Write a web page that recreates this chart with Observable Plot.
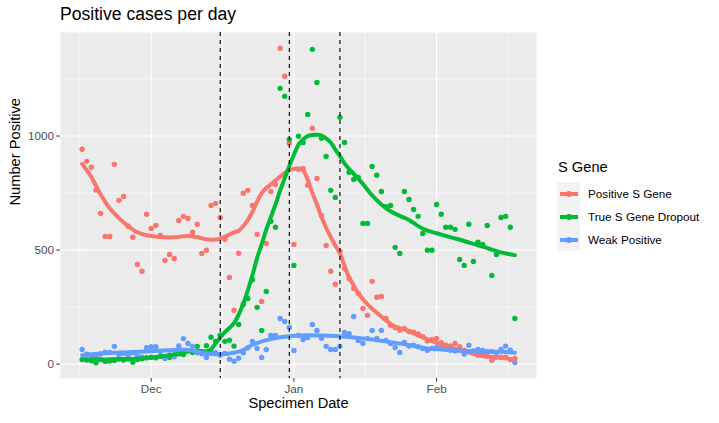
<!DOCTYPE html>
<html>
<head>
<meta charset="utf-8">
<script src="https://cdn.jsdelivr.net/npm/d3@7"></script>
<script src="https://cdn.jsdelivr.net/npm/@observablehq/plot@0.6"></script>
<style>
  body { margin: 0; background: #fff; font-family: "Liberation Sans", Arial, sans-serif; }
  #wrap { position: relative; width: 719px; height: 423px; overflow: hidden; background: #fff; }
  #title { position: absolute; left: 60px; top: 4px; font-size: 17.6px; line-height: 20px; color: #000; white-space: nowrap; }
  #chart { position: absolute; left: 0; top: 30px; }
  #legend { position: absolute; left: 557px; top: 0; width: 162px; height: 423px; }
  #legend .lt { position: absolute; left: 1px; top: 159px; font-size: 14.67px; line-height: 17px; color: #000; white-space: nowrap; }
  #legend .rows { position: absolute; left: 0; top: 182px; }
  #legend .row { display: flex; align-items: center; height: 23px; }
  #legend .key { position: relative; width: 23px; height: 23px; background: #F2F2F2; flex: none; }
  #legend .kl { position: absolute; left: 3px; width: 18px; top: 9.5px; height: 4px; }
  #legend .kd { position: absolute; left: 9px; top: 9px; width: 5.5px; height: 5.5px; border-radius: 50%; }
  #legend .row span { margin-left: 8px; font-size: 11.7px; color: #000; white-space: nowrap; }
</style>
</head>
<body>
<div id="wrap">
  <div id="title">Positive cases per day</div>
  <div id="chart"></div>
  <div id="legend"></div>
</div>
<script>
// ---------------- data ----------------
const startDate = "2020-11-16";   // first specimen date (day 0)
const seriesNames = ["Positive S Gene", "True S Gene Dropout", "Weak Positive"];
const seriesColors = ["#F8766D", "#00BA38", "#619CFF"];

// daily counts, one value per day from startDate
const positiveS = [942,889,863,763,661,560,560,876,718,735,
  605,556,437,407,657,595,608,564,455,481,
  463,630,648,639,578,613,485,499,696,705,
  643,547,380,236,486,749,762,696,569,275,
  529,757,788,1385,1262,968,525,854,858,784,
  1034,814,652,520,407,350,495,420,376,332,
  310,244,214,363,293,297,200,170,160,149,
  156,143,140,132,120,102,108,113,94,83,
  80,91,77,61,55,50,39,43,35,17,
  31,30,30,20,25];
const dropout = [20,18,15,6,20,12,14,16,22,18,
  22,8,20,24,28,30,28,35,30,29,
  40,45,42,60,51,78,55,81,118,100,
  127,100,105,79,174,262,288,370,249,148,
  319,626,600,1209,1174,985,433,999,972,1095,
  1380,1235,990,911,762,731,1082,972,841,810,
  819,617,617,867,828,757,690,696,512,485,
  757,722,678,648,573,499,499,700,657,600,
  600,591,459,433,613,450,535,525,608,389,
  481,643,648,600,200];
const weak = [64,44,38,35,45,52,51,78,42,48,
  40,50,35,30,72,76,76,55,25,40,
  32,80,112,91,78,50,46,29,52,50,
  39,47,22,13,26,50,72,99,69,29,
  64,126,126,200,187,161,60,126,108,117,
  174,148,113,78,64,64,78,139,134,209,
  104,91,112,148,113,148,104,91,73,51,
  95,79,83,76,69,61,69,73,70,64,
  61,58,62,44,83,58,64,60,54,55,
  50,64,79,61,7];

// smoothed trend (loess): day index from startDate, value
const posSmoothDay = [0,2,4,6,8,10,12,14,17,20,23,25,27,29,30,31,32,33,34,35,36,37,38,39,40,41,42,43,44,45,46,47,48,49,50,51,52,53,54,55,56,57,58,59,60,62,64,66,68,70,72,74,76,78,80,82,84,86,88,90,92,94];
const posSmoothVal = [878,820,745,683,640,605,578,565,557,556,562,556,548,546,550,558,568,578,585,605,632,668,712,750,772,788,805,822,838,850,856,858,850,808,751,700,645,598,558,520,485,430,380,345,310,262,225,192,165,152,135,117,101,86,75,61,51,40,33,30,26,20];
const dropSmoothDay = [0,4,8,12,16,20,23,25,27,28,29,31,33,35,37,38,39,40,41,42,43,44,45,46,47,48,49,50,51,52,53,54,55,56,57,58,59,61,63,65,67,69,71,73,75,77,79,81,83,85,87,89,91,94];
const dropSmoothVal = [20,20,22,24,30,42,55,59,56,65,92,140,180,265,390,465,525,590,645,700,760,815,868,918,962,985,1000,1005,1006,1002,990,972,940,912,880,855,834,790,740,700,670,650,632,605,585,574,562,551,540,527,515,502,490,478];
const weakSmoothDay = [0,5,10,15,20,23,25,27,30,33,35,37,40,43,46,49,52,55,59,63,67,71,75,79,83,87,91,94];
const weakSmoothVal = [39,48,52,57,62,62,55,47,44,50,62,85,105,118,124,127,126,123,117,108,96,84,69,64,58,54,54,50];

// dashed reference dates
const markerDates = ["2020-12-16", "2020-12-31", "2021-01-11"];
// axis breaks
const monthTicks = ["2020-12-01", "2021-01-01", "2021-02-01"];
const yTicks = [0, 500, 1000];

// ---------------- build tables ----------------
const DAY = 864e5;
const parse = s => new Date(s + "T00:00:00Z");
const t0 = parse(startDate);
const dayDate = d => new Date(+t0 + d * DAY);

const series = [
  {name: seriesNames[0], counts: positiveS, sd: posSmoothDay, sv: posSmoothVal},
  {name: seriesNames[1], counts: dropout, sd: dropSmoothDay, sv: dropSmoothVal},
  {name: seriesNames[2], counts: weak, sd: weakSmoothDay, sv: weakSmoothVal}
];
const points = series.flatMap(s => s.counts.map((v, i) => ({date: dayDate(i), value: v, group: s.name})));
const smooth = series.flatMap(s => s.sd.map((d, i) => ({date: dayDate(d), value: s.sv[i], group: s.name})));

// ggplot-like 5% expansion
const nDays = Math.max(...series.map(s => s.counts.length)) - 1;
const xSpan = nDays * DAY;
const xDomain = [new Date(+t0 - 0.05 * xSpan), new Date(+t0 + xSpan + 0.05 * xSpan)];
const allVals = points.map(d => d.value).concat(smooth.map(d => d.value));
const yMin = Math.min(...allVals), yMax = Math.max(...allVals);
const yPad = 0.05 * (yMax - yMin);
const yDomain = [yMin - yPad, yMax + yPad];

// minor breaks as ggplot computes them (midpoints, extended one step outside)
function minorBreaks(major, lo, hi) {
  let b = major.slice();
  if (lo < b[0]) b = [b[0] - (b[1] - b[0])].concat(b);
  const n = b.length;
  if (hi > b[n - 1]) b = b.concat([b[n - 1] + (b[n - 1] - b[n - 2])]);
  const out = [];
  for (let i = 0; i < b.length - 1; i++) out.push((b[i] + b[i + 1]) / 2);
  return out.filter(v => v >= lo && v <= hi);
}
const majorX = monthTicks.map(parse);
const minorX = minorBreaks(majorX.map(Number), +xDomain[0], +xDomain[1]).map(v => new Date(v));
const minorY = minorBreaks(yTicks, yDomain[0], yDomain[1]);

// ---------------- plot ----------------
const chart = Plot.plot({
  width: 719,
  height: 393,
  marginLeft: 60,
  marginRight: 183,
  marginTop: 2,
  marginBottom: 45,
  style: {fontFamily: "'Liberation Sans', Arial, sans-serif", background: "white", overflow: "visible"},
  x: {type: "utc", domain: xDomain},
  y: {domain: yDomain},
  color: {domain: seriesNames, range: seriesColors},
  marks: [
    Plot.frame({fill: "#EBEBEB", stroke: null}),
    Plot.gridY({ticks: minorY, stroke: "white", strokeOpacity: 1, strokeWidth: 0.55}),
    Plot.gridX({ticks: minorX, stroke: "white", strokeOpacity: 1, strokeWidth: 0.55}),
    Plot.gridY({ticks: yTicks, stroke: "white", strokeOpacity: 1, strokeWidth: 1.1}),
    Plot.gridX({ticks: majorX, stroke: "white", strokeOpacity: 1, strokeWidth: 1.1}),
    Plot.dot(points, {x: "date", y: "value", fill: "group", r: 2.7, stroke: null}),
    Plot.line(smooth, {x: "date", y: "value", stroke: "group", z: "group", strokeWidth: 4, curve: "catmull-rom"}),
    Plot.ruleX(markerDates.map(parse), {stroke: "black", strokeWidth: 1.1, strokeDasharray: "4,4"}),
    Plot.axisY({ticks: yTicks, tickFormat: d => String(d), tickSize: 3.7, tickPadding: 2.9, fontSize: 11.7, fill: "#4D4D4D", stroke: "#333333", label: null}),
    Plot.axisX({ticks: majorX, tickFormat: d3.utcFormat("%b"), tickSize: 3.7, tickPadding: 2.9, fontSize: 11.7, fill: "#4D4D4D", stroke: "#333333", label: null}),
    Plot.text(["Specimen Date"], {frameAnchor: "bottom", dy: 29, fontSize: 14.67, fill: "black"}),
    Plot.text(["Number Positive"], {frameAnchor: "left", dx: -45, rotate: -90, fontSize: 14.67, fill: "black"})
  ]
});
document.getElementById("chart").appendChild(chart);

// ---------------- legend ----------------
const legend = document.getElementById("legend");
legend.innerHTML = `<div class="lt">S Gene</div><div class="rows">` +
  seriesNames.map((n, i) =>
    `<div class="row"><div class="key"><div class="kl" style="background:${seriesColors[i]}"></div><div class="kd" style="background:${seriesColors[i]}"></div></div><span>${n}</span></div>`
  ).join("") + `</div>`;
</script>
</body>
</html>
